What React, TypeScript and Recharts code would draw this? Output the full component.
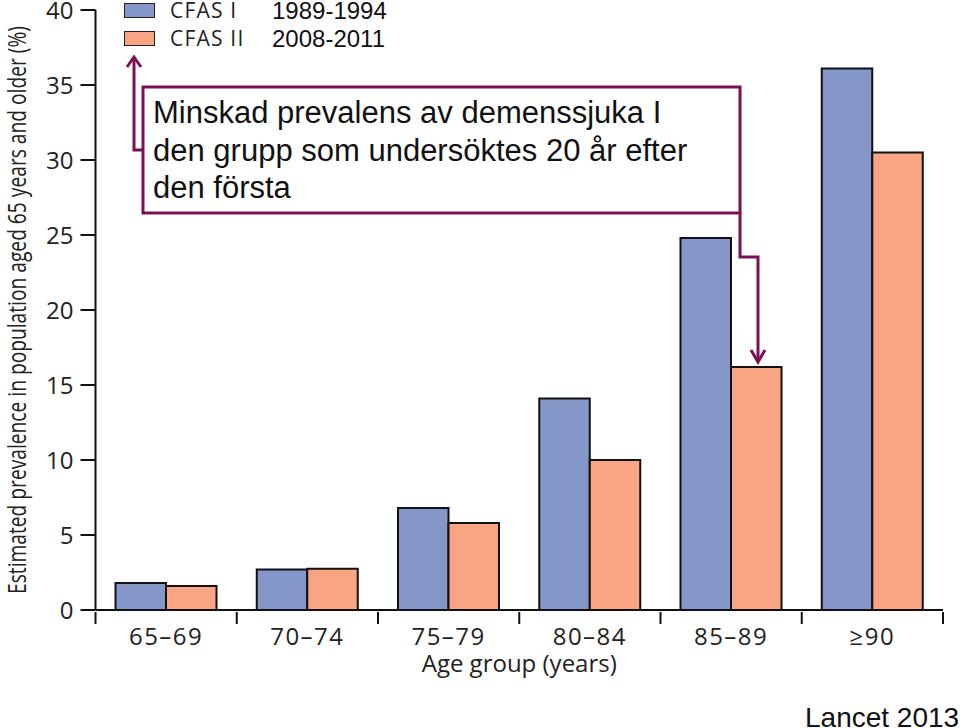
import React from 'react';
import { BarChart, Bar, XAxis, YAxis, Legend } from 'recharts';

const AGE_GROUPS = ['65–69', '70–74', '75–79', '80–84', '85–89', '≥90'];
const CFAS_I = [1.8, 2.7, 6.8, 14.1, 24.8, 36.1];
const CFAS_II = [1.6, 2.75, 5.8, 10.0, 16.2, 30.5];
const Y_TICKS = [0, 5, 10, 15, 20, 25, 30, 35, 40];
const SERIES_YEARS = ['1989-1994', '2008-2011'];

const data = AGE_GROUPS.map((g, i) => ({ group: g, cfas1: CFAS_I[i], cfas2: CFAS_II[i] }));

const W = 960;
const H = 728;
const MARGIN = { top: 10, right: 17, left: 0, bottom: 58 };
const Y_AXIS_W = 95.5;
const BAND = (W - MARGIN.right - Y_AXIS_W) / AGE_GROUPS.length;

const BLUE = '#8597c9';
const ORANGE = '#f9a583';
const PURPLE = '#7a1056';
const LANCET_FONT = "'Open Sans', 'Noto Sans', sans-serif";
const ARIAL = "'Liberation Sans', Arial, sans-serif";

const XTick = (props: any) => {
  const { x, y, payload, index } = props;
  const half = BAND / 2;
  return (
    <g>
      <line x1={x - half} y1={y} x2={x - half} y2={y + 12} stroke="#111" strokeWidth={2} />
      {index === AGE_GROUPS.length - 1 && (
        <line x1={x + half} y1={y} x2={x + half} y2={y + 12} stroke="#111" strokeWidth={2} />
      )}
      <text x={x} y={y + 33} textAnchor="middle" fontSize={24} letterSpacing={1.5} fill="#222" fontFamily={LANCET_FONT}>
        {payload.value}
      </text>
    </g>
  );
};

const renderYLabel = ({ viewBox }: any) => {
  const cy = viewBox.y + viewBox.height / 2;
  return (
    <text
      x={26}
      y={cy}
      transform={`rotate(-90, 26, ${cy})`}
      textAnchor="middle"
      fontSize={26}
      fill="#222"
      fontFamily={LANCET_FONT}
      textLength={568}
      lengthAdjust="spacingAndGlyphs"
    >
      Estimated prevalence in population aged 65 years and older (%)
    </text>
  );
};

const renderXLabel = ({ viewBox }: any) => (
  <text
    x={viewBox.x + viewBox.width / 2}
    y={viewBox.y + 62}
    textAnchor="middle"
    fontSize={24}
    fill="#222"
    fontFamily={LANCET_FONT}
  >
    Age group (years)
  </text>
);

const renderLegend = ({ payload }: any) => (
  <div style={{ position: 'relative', width: 420, height: 50 }}>
    {(payload || []).map((entry: any, i: number) => (
      <div key={entry.value} style={{ position: 'absolute', left: 0, top: i * 28, height: 22, width: 420 }}>
        <div
          style={{
            position: 'absolute',
            left: 124,
            top: 3,
            width: 29,
            height: 13,
            background: entry.color,
            border: '1.5px solid #222',
          }}
        />
        <span
          style={{
            position: 'absolute',
            left: 170,
            top: -3,
            fontFamily: LANCET_FONT,
            fontSize: 21,
            lineHeight: '26px',
            letterSpacing: 1.2,
            color: '#222',
            whiteSpace: 'nowrap',
          }}
        >
          {entry.value}
        </span>
        <span
          style={{
            position: 'absolute',
            left: 272,
            top: -2,
            fontFamily: ARIAL,
            fontSize: 24,
            lineHeight: '26px',
            color: '#111',
            whiteSpace: 'nowrap',
          }}
        >
          {SERIES_YEARS[i]}
        </span>
      </div>
    ))}
  </div>
);

export default function App() {
  return (
    <div style={{ position: 'relative', width: W, height: H, overflow: 'hidden', background: '#fff' }}>
      <style>{'body{margin:0}'}</style>
      <BarChart width={W} height={H} data={data} margin={MARGIN} barGap={0} barSize={50.5}>
        <XAxis
          dataKey="group"
          height={60}
          interval={0}
          tickSize={0}
          tickLine={false}
          axisLine={{ stroke: '#111', strokeWidth: 2 }}
          tick={<XTick />}
          label={{ content: renderXLabel }}
        />
        <YAxis
          width={Y_AXIS_W}
          domain={[0, 40]}
          ticks={Y_TICKS}
          interval={0}
          tickSize={15}
          tickMargin={7}
          axisLine={{ stroke: '#111', strokeWidth: 2 }}
          tickLine={{ stroke: '#111', strokeWidth: 2 }}
          tick={{ fontSize: 24, fill: '#222', fontFamily: LANCET_FONT }}
          label={{ content: renderYLabel }}
        />
        <Legend
          layout="vertical"
          align="center"
          verticalAlign="middle"
          content={renderLegend}
          wrapperStyle={{ position: 'absolute', top: 0, left: 0, width: 420, height: 50 }}
        />
        <Bar dataKey="cfas1" name="CFAS I" fill={BLUE} stroke="#111" strokeWidth={2} isAnimationActive={false} />
        <Bar dataKey="cfas2" name="CFAS II" fill={ORANGE} stroke="#111" strokeWidth={2} isAnimationActive={false} />
      </BarChart>
      <svg width={W} height={H} style={{ position: 'absolute', top: 0, left: 0, pointerEvents: 'none' }}>
        <rect x={143} y={87} width={597} height={126} fill="#fff" stroke={PURPLE} strokeWidth={3} />
        <text fontFamily={ARIAL} fontSize={31} fill="#111">
          <tspan x={153} y={123}>Minskad prevalens av demenssjuka I</tspan>
          <tspan x={153} y={161}>den grupp som undersöktes 20 år efter</tspan>
          <tspan x={153} y={198}>den första</tspan>
        </text>
        <path d="M143 150 H134 V58" fill="none" stroke={PURPLE} strokeWidth={3} />
        <polyline points="127,67 134,57 141,67" fill="none" stroke={PURPLE} strokeWidth={3} />
        <path d="M740 213 V257 H758 V360" fill="none" stroke={PURPLE} strokeWidth={3} />
        <polyline points="751,350 758,362 765,350" fill="none" stroke={PURPLE} strokeWidth={3} />
        <text x={805} y={727} fontFamily={ARIAL} fontSize={28} fill="#111">
          Lancet 2013
        </text>
      </svg>
    </div>
  );
}
